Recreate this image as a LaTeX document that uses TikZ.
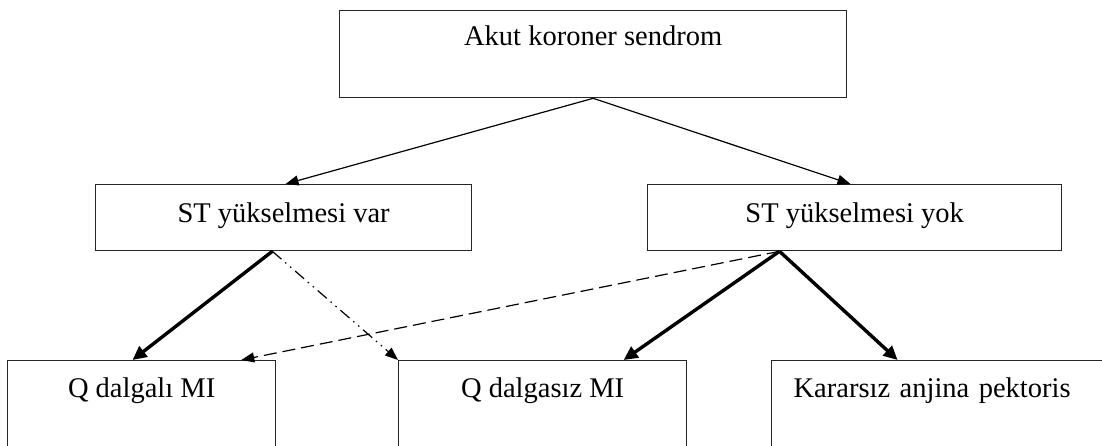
\documentclass[tikz,border=0pt]{standalone}
\usepackage{fontspec}
\setmainfont{Liberation Serif}
\usetikzlibrary{arrows.meta,calc}
\begin{document}
\begin{tikzpicture}[x=1pt,y=-1pt,
  box/.style={draw=black!85, line width=1.3pt, rectangle, inner sep=0pt,
    anchor=north west, font=\fontsize{28.5}{34}\selectfont},
  midbox/.style={box, text height=38pt, text depth=28pt},
  lowbox/.style={box, text height=37pt, text depth=83pt},
  thinarrow/.style={line width=1.2pt, -{Triangle[length=13pt,width=10pt]}},
  boldarrow/.style={line width=3.4pt, -{Triangle[length=14pt,width=13pt]}},
  dasharrow/.style={thinarrow, dash pattern=on 13pt off 6pt},
  dotdasharrow/.style={thinarrow, dash pattern=on 12pt off 5pt on 1.5pt off 5pt on 1.5pt off 5pt}]
\useasboundingbox (0,0) rectangle (1102,445);
\clip (0,0) rectangle (1102,445);
\fill[white] (0,0) rectangle (1102,445);

\node[box, minimum width=507pt, text height=35pt, text depth=52pt] (acs) at (339,10) {Akut koroner sendrom};
\node[midbox, minimum width=376pt] (var) at (95,184) {ST yükselmesi var};
\node[midbox, minimum width=414pt] (yok) at (647,184) {ST yükselmesi yok};
\node[lowbox, minimum width=268pt] (qmi) at (7,360) {Q dalgalı MI};
\node[lowbox, minimum width=288pt] (nqmi) at (398,360) {Q dalgasız MI};
\node[lowbox, inner xsep=22pt, text width=295pt, align=left] (ua) at (771,360) {Kararsız anjina pektoris};

\coordinate (varout) at ($(var.south west)!0.47!(var.south east)$);
\coordinate (yokout) at ($(yok.south west)!0.319!(yok.south east)$);
\coordinate (varin) at ($(var.north west)!0.505!(var.north east)$);
\coordinate (yokin) at ($(yok.north west)!0.49!(yok.north east)$);
\coordinate (qmiin) at ($(qmi.north west)!0.466!(qmi.north east)$);
\coordinate (qmiin2) at ($(qmi.north west)!0.87!(qmi.north east)$);
\coordinate (nqmiin) at ($(nqmi.north west)!0.78!(nqmi.north east)$);
\coordinate (uain) at ($(ua.north west)!0.372!(ua.north east)$);

\draw[thinarrow] (acs.south) -- (varin);
\draw[thinarrow] (acs.south) -- (yokin);
\draw[boldarrow] (varout) -- (qmiin);
\draw[dotdasharrow] (varout) -- (nqmi.north west);
\draw[dasharrow] (yokout) -- (qmiin2);
\draw[boldarrow] (yokout) -- (nqmiin);
\draw[boldarrow] (yokout) -- (uain);
\end{tikzpicture}
\end{document}
